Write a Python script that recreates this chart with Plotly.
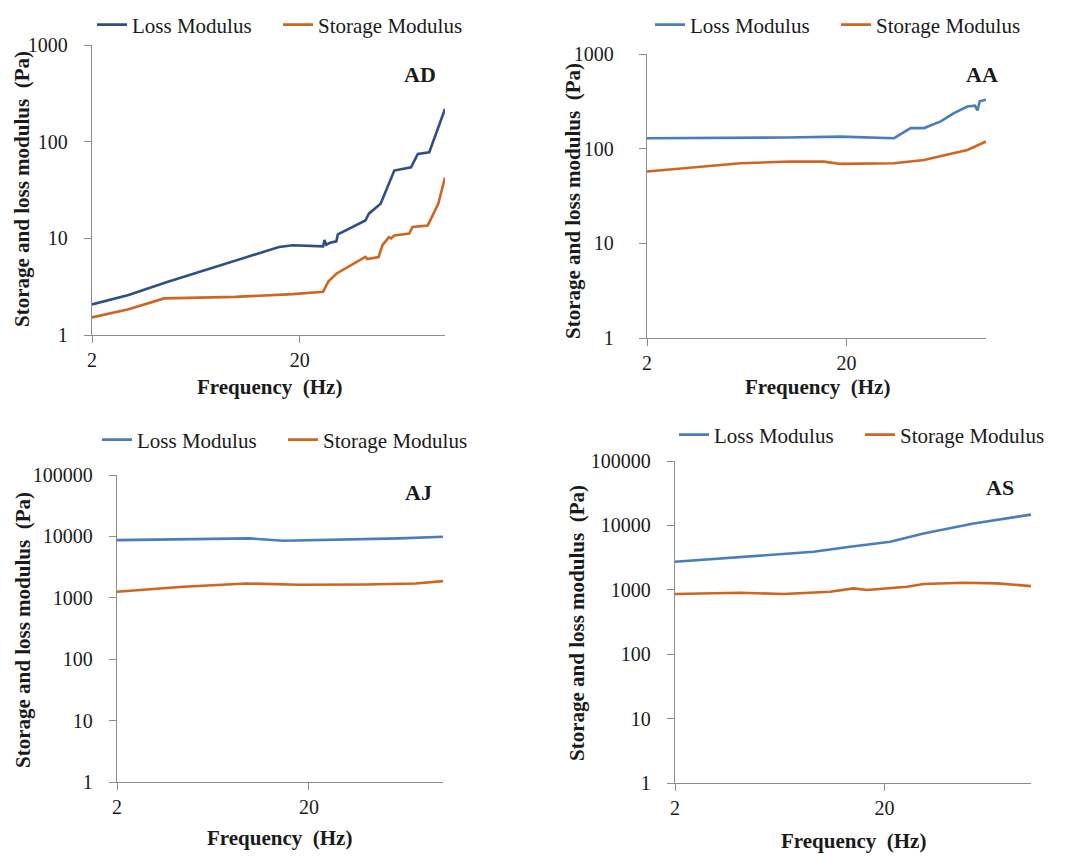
import plotly.graph_objects as go

W, H = 1073, 866
FONT = "Liberation Serif"
LOSS_DARK = "#2E4F86"
LOSS_BLUE = "#4A7EBB"
STORAGE_ORANGE = "#CF6520"
AXIS_GREY = "#8C8C8C"
TEXT = "#1a1a1a"

# ---------------- data ----------------
series_names = ["Loss Modulus", "Storage Modulus"]
panel_labels = ["AD", "AA", "AJ", "AS"]

x_tickvals = [2, 20]
x_ticktext = ["2", "20"]
y_ticks_small = [1, 10, 100, 1000]
y_ticks_large = [1, 10, 100, 1000, 10000, 100000]

ad_loss_f = [2.0, 3.0, 4.6, 9.8, 15.9, 18.5, 22.0, 25.9, 26.3, 26.8, 28.0, 30.0, 30.5, 41.4, 43.0, 49.0, 57.0, 68.6, 74.0, 84.0, 100.0]
ad_loss_v = [2.07, 2.6, 3.54, 5.93, 8.13, 8.47, 8.4, 8.25, 9.6, 8.6, 9.0, 9.3, 11.0, 15.3, 18.0, 22.8, 50.3, 54.3, 74.6, 77.8, 218.0]
ad_stor_f = [2.0, 3.0, 4.45, 9.8, 18.5, 25.9, 27.5, 30.1, 41.4, 42.3, 47.9, 50.0, 53.7, 55.0, 57.0, 67.2, 69.8, 82.6, 92.8, 100.0]
ad_stor_v = [1.52, 1.85, 2.39, 2.48, 2.65, 2.8, 3.6, 4.33, 6.42, 6.1, 6.4, 8.5, 10.3, 10.0, 10.7, 11.2, 13.1, 13.6, 22.8, 42.6]

aa_loss_f = [2.0, 5.0, 10.0, 18.7, 25.0, 34.6, 41.9, 48.9, 59.3, 69.1, 80.6, 88.0, 90.6, 93.0, 100.0]
aa_loss_v = [129, 129, 131, 134, 132, 129, 165, 165, 194, 237, 279, 285, 254, 316, 329]
aa_stor_f = [2.0, 5.88, 10.5, 15.4, 18.7, 34.6, 48.9, 64.0, 80.6, 100.0]
aa_stor_v = [57.3, 70.2, 73.1, 73.0, 69.0, 70.2, 76.0, 86.0, 97.0, 119.0]

aj_loss_f = [2.0, 9.84, 14.7, 26.7, 59.0, 100.0]
aj_loss_v = [8710, 9270, 8490, 8710, 9270, 9880]
aj_stor_f = [2.0, 4.44, 9.45, 17.9, 39.7, 72.0, 100.0]
aj_stor_v = [1253, 1512, 1713, 1630, 1650, 1713, 1870]

as_loss_f = [2.0, 4.09, 9.16, 13.7, 21.3, 30.7, 53.2, 100.0]
as_loss_v = [2720, 3250, 3890, 4650, 5560, 7480, 10690, 14730]
as_stor_f = [2.0, 4.09, 6.6, 11.0, 14.2, 16.5, 25.6, 30.7, 47.7, 68.8, 100.0]
as_stor_v = [859, 901, 859, 934, 1051, 991, 1116, 1228, 1288, 1260, 1142]

# ---------------- layout helpers ----------------
def xd(a, b):
    return [a / W, b / W]

def yd(top, bottom):
    return [1 - bottom / H, 1 - top / H]

# legend tuple: (text start px, centre y px)
panels = [
    dict(loss=(ad_loss_f, ad_loss_v), stor=(ad_stor_f, ad_stor_v), loss_color=LOSS_DARK,
         xdom=xd(92, 445), ydom=yd(45, 335), yticks=y_ticks_small, standoff=12,
         legend=(135, 25), lab=(420, 75), ytitle=(22, 189), xtitle=(269, 387)),
    dict(loss=(aa_loss_f, aa_loss_v), stor=(aa_stor_f, aa_stor_v), loss_color=LOSS_BLUE,
         xdom=xd(647, 986), ydom=yd(54, 338), yticks=y_ticks_small, standoff=21,
         legend=(693, 25), lab=(982, 74), ytitle=(573, 201), xtitle=(817, 387)),
    dict(loss=(aj_loss_f, aj_loss_v), stor=(aj_stor_f, aj_stor_v), loss_color=LOSS_BLUE,
         xdom=xd(117, 443), ydom=yd(475, 782), yticks=y_ticks_large, standoff=12,
         legend=(140, 440), lab=(418, 492), ytitle=(23, 630), xtitle=(280, 838)),
    dict(loss=(as_loss_f, as_loss_v), stor=(as_stor_f, as_stor_v), loss_color=LOSS_BLUE,
         xdom=xd(675, 1031), ydom=yd(461, 783), yticks=y_ticks_large, standoff=12,
         legend=(717, 435), lab=(1000, 487), ytitle=(577, 623), xtitle=(853, 841)),
]

fig = go.Figure()
annotations = []
layout = {}

def ann(text, px, py, size, angle=0):
    return dict(text=text, x=px / W, y=1 - py / H, xref="paper", yref="paper",
                xanchor="center", yanchor="middle", showarrow=False, textangle=angle,
                font=dict(family=FONT, size=size, color=TEXT, weight="bold"))

for i, p in enumerate(panels):
    n = "" if i == 0 else str(i + 1)
    xa, ya = "x" + n, "y" + n
    lg = "legend" + n
    fig.add_trace(go.Scatter(x=p["loss"][0], y=p["loss"][1], mode="lines", name=series_names[0],
                             line=dict(color=p["loss_color"], width=2.6), xaxis=xa, yaxis=ya, legend=lg))
    fig.add_trace(go.Scatter(x=p["stor"][0], y=p["stor"][1], mode="lines", name=series_names[1],
                             line=dict(color=STORAGE_ORANGE, width=2.6), xaxis=xa, yaxis=ya, legend=lg))
    ytop = len(p["yticks"]) - 1
    common = dict(type="log", ticks="outside", ticklen=7, tickcolor=AXIS_GREY, tickwidth=1.3,
                  showline=True, linecolor=AXIS_GREY, linewidth=1.3, showgrid=False, zeroline=False,
                  tickfont=dict(family=FONT, size=20, color=TEXT))
    layout["xaxis" + n] = dict(domain=p["xdom"], anchor=ya, range=[0.30103, 2.0],
                               tickvals=x_tickvals, ticktext=x_ticktext, **common)
    layout["yaxis" + n] = dict(domain=p["ydom"], anchor=xa, range=[0, ytop], ticklabelstandoff=p["standoff"],
                               tickvals=p["yticks"], ticktext=[str(v) for v in p["yticks"]], **common)
    lx, ly = p["legend"]
    layout[lg] = dict(
        x=(lx - 43) / W, y=1 - ly / H, xanchor="left", yanchor="middle",
        orientation="h", font=dict(family=FONT, size=21, color=TEXT), bgcolor="rgba(0,0,0,0)",
        entrywidth=141, itemwidth=30, tracegroupgap=0)
    annotations.append(ann(panel_labels[i], p["lab"][0], p["lab"][1], 22))
    annotations.append(ann("Frequency  (Hz)", p["xtitle"][0], p["xtitle"][1], 21))
    annotations.append(ann("Storage and loss modulus  (Pa)", p["ytitle"][0], p["ytitle"][1], 21, -90))

fig.update_layout(**layout)
fig.update_layout(width=W, height=H, margin=dict(l=0, r=0, t=0, b=0, autoexpand=False), paper_bgcolor="white",
                  plot_bgcolor="white", annotations=annotations, showlegend=True)
fig.write_html("out.html")
